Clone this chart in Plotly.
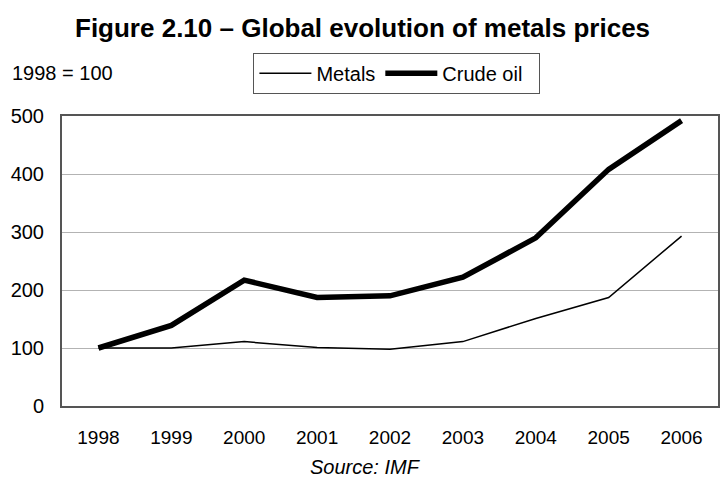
import plotly.graph_objects as go

years = ["1998", "1999", "2000", "2001", "2002", "2003", "2004", "2005", "2006"]
metals = [100, 100, 111, 101, 98, 111, 151, 187, 293]
crude_oil = [100, 139, 217, 187, 190, 222, 290, 408, 492]
y_ticks = [0, 100, 200, 300, 400, 500]

FONT = "Liberation Sans, Arial, sans-serif"

fig = go.Figure()
fig.add_trace(go.Scatter(x=years, y=metals, mode="lines", name="Metals",
                         line=dict(color="black", width=1.5)))
fig.add_trace(go.Scatter(x=years, y=crude_oil, mode="lines", name="Crude oil&nbsp;&nbsp;",
                         line=dict(color="black", width=5.5)))

L, R, T, B = 62, 1, 115.5, 84.5
W, H = 721, 491
pw = W - L - R
ph = H - T - B

def px_x(px):
    return (px - L) / pw

def px_y(py):
    return (H - B - py) / ph

fig.update_layout(
    width=W, height=H,
    margin=dict(l=L, r=R, t=T, b=B),
    paper_bgcolor="white", plot_bgcolor="white",
    font=dict(family=FONT, size=19, color="black"),
    showlegend=True,
    legend=dict(orientation="h", x=px_x(254), y=px_y(52), xanchor="left", yanchor="top",
                bordercolor="#555", borderwidth=1, font=dict(size=20, family=FONT),
                bgcolor="white", itemwidth=52, tracegroupgap=0),
    xaxis=dict(type="category", range=[-0.5, 8.5], showgrid=False, ticks="",
               showline=True, linecolor="#555", linewidth=2, mirror=True,
               ticklabelstandoff=13, tickfont=dict(size=19, family=FONT), zeroline=False),
    yaxis=dict(range=[0, 500], tickvals=y_ticks, showgrid=True, gridcolor="#b3b3b3", gridwidth=1,
               showline=True, linecolor="#555", linewidth=2, mirror=True, ticks="",
               ticklabelstandoff=12, tickfont=dict(size=20, family=FONT), zeroline=False),
    annotations=[
        dict(text="<b>Figure 2.10 – Global evolution of metals prices</b>", xref="paper", yref="paper",
             x=px_x(363), y=px_y(27), xanchor="center", yanchor="middle", showarrow=False,
             font=dict(size=26, family=FONT)),
        dict(text="1998 = 100", xref="paper", yref="paper", x=px_x(10), y=px_y(72),
             xanchor="left", yanchor="middle", showarrow=False, font=dict(size=20, family=FONT)),
        dict(text="<i>Source: IMF</i>", xref="paper", yref="paper", x=px_x(366), y=px_y(468),
             xanchor="center", yanchor="middle", showarrow=False, font=dict(size=20, family=FONT)),
    ],
)

fig.write_html("out.html")
